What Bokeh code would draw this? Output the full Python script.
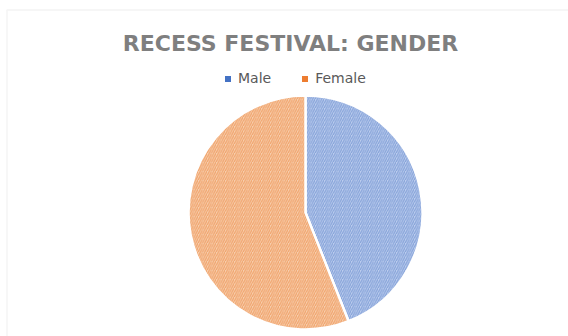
import math
import numpy as np
from bokeh.plotting import figure
from bokeh.models import ColumnDataSource, Range1d, Label, Legend, LegendItem, BoxAnnotation
from bokeh.embed import file_html
from bokeh.resources import INLINE

# ---- data ----
genders = ["Male", "Female"]
shares = [44, 56]
solid_colors = ["#4472C4", "#ED7D31"]
fill_colors = ["#BCCDEE", "#F7CEAE"]
hatch_colors = ["#86A3D9", "#F0A46C"]
title_text = "RECESS FESTIVAL: GENDER"

W, H = 568, 336
p = figure(width=W, height=H, output_backend="svg", toolbar_location=None,
           x_range=Range1d(0, W), y_range=Range1d(0, H),
           min_border=0, min_border_left=0, min_border_right=0,
           min_border_top=0, min_border_bottom=0)
p.axis.visible = False
p.grid.visible = False
p.outline_line_color = None
p.background_fill_color = "white"
p.border_fill_color = "white"

# chart border (only left and top edges visible in the crop)
p.add_layout(BoxAnnotation(left=6.5, right=W + 20, top=H - 9.5, bottom=-20,
                           fill_alpha=0, line_color="#D9D9D9", line_width=1.5))

# pie angles (start at 12 o'clock, clockwise)
total = float(sum(shares))
starts, ends = [], []
acc = 0.0
for s in shares:
    starts.append(math.pi / 2 - 2 * math.pi * acc / total)
    acc += s
    ends.append(math.pi / 2 - 2 * math.pi * acc / total)

cx, cy, r = 305, 124, 117
src = ColumnDataSource(dict(gender=genders, share=shares, start=starts, end=ends,
                            fill=fill_colors, hatch=hatch_colors))
p.wedge(x=cx, y=cy, radius=r, start_angle="start", end_angle="end", direction="clock",
        source=src, fill_color="fill", hatch_color="hatch", hatch_pattern="/",
        hatch_scale=4.5, hatch_weight=1.2, line_color="white", line_width=2.5)

# legend markers (solid squares)
items = []
for g, c in zip(genders, solid_colors):
    rr = p.scatter(x=[np.nan], y=[np.nan], marker="square", size=6,
                   fill_color=c, line_color=None)
    items.append(LegendItem(label=g, renderers=[rr]))

legend = Legend(items=items, orientation="horizontal", location=(220, 250),
                padding=0, margin=0, spacing=26, label_standoff=3,
                glyph_width=15, glyph_height=15, label_height=15,
                label_text_font="DejaVu Sans", label_text_font_size="14px",
                label_text_color="#595959", border_line_color=None,
                background_fill_alpha=0)
p.add_layout(legend, "center")

# title
p.add_layout(Label(x=290, y=H - 42.5, text=title_text, text_align="center",
                   text_baseline="middle", text_font="DejaVu Sans",
                   text_font_style="bold", text_font_size="22px",
                   text_color="#7F7F7F"))

open("out.html", "w").write(file_html(p, INLINE))
